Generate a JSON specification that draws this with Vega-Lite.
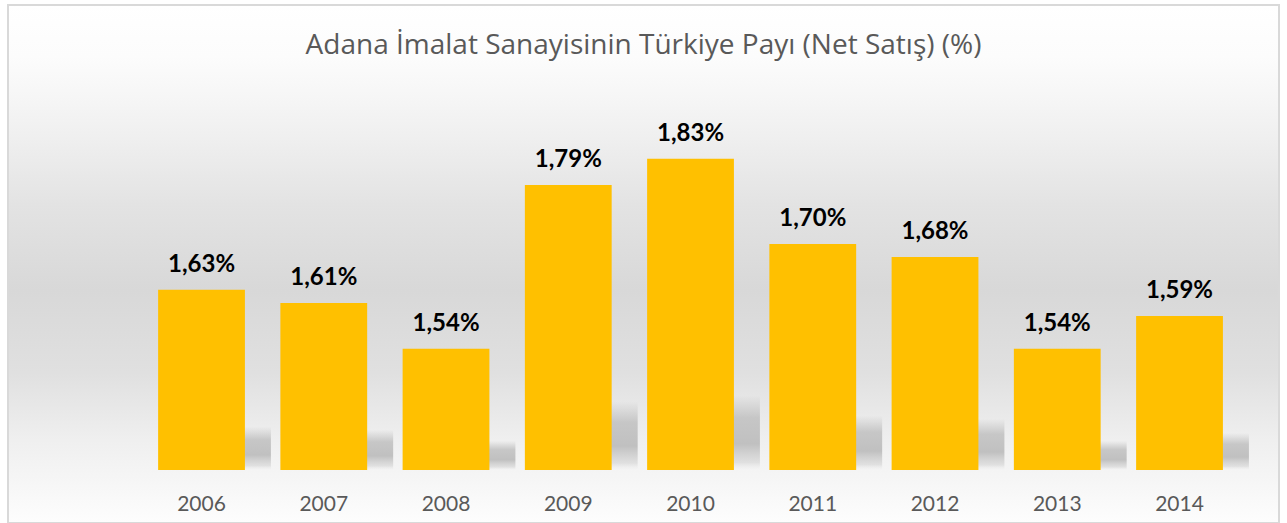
{
  "$schema": "https://vega.github.io/schema/vega-lite/v6.json",
  "width": 1271,
  "height": 518,
  "autosize": {"type": "none"},
  "padding": {"left": 8, "right": 8, "top": 5, "bottom": 0},
  "background": "#ffffff",
  "title": {
    "text": "Adana İmalat Sanayisinin Türkiye Payı (Net Satış) (%)",
    "anchor": "middle",
    "frame": "group",
    "font": "Open Sans",
    "fontSize": 28,
    "fontWeight": "normal",
    "color": "#595959",
    "baseline": "alphabetic",
    "offset": -77
  },
  "config": {
    "view": {
      "stroke": "#d9d9d9",
      "strokeWidth": 2,
      "fill": {
        "gradient": "linear",
        "x1": 0, "y1": 0, "x2": 0, "y2": 1,
        "stops": [
          {"offset": 0, "color": "#ffffff"},
          {"offset": 0.1, "color": "#fcfcfc"},
          {"offset": 0.19, "color": "#f5f5f5"},
          {"offset": 0.29, "color": "#ececec"},
          {"offset": 0.386, "color": "#e3e3e3"},
          {"offset": 0.55, "color": "#d8d8d8"},
          {"offset": 0.71, "color": "#e0e0e0"},
          {"offset": 0.84, "color": "#efefef"},
          {"offset": 1, "color": "#fdfdfd"}
        ]
      }
    }
  },
  "data": {
    "values": [
      {"year": "2006", "v": 1.63},
      {"year": "2007", "v": 1.61},
      {"year": "2008", "v": 1.54},
      {"year": "2009", "v": 1.79},
      {"year": "2010", "v": 1.83},
      {"year": "2011", "v": 1.70},
      {"year": "2012", "v": 1.68},
      {"year": "2013", "v": 1.54},
      {"year": "2014", "v": 1.59}
    ]
  },
  "encoding": {
    "x": {
      "field": "year",
      "type": "nominal",
      "sort": null,
      "scale": {"paddingInner": 0.29, "paddingOuter": 0.8434, "align": 0.728},
      "axis": {
        "title": null,
        "orient": "bottom",
        "offset": -13,
        "domain": false,
        "ticks": false,
        "tickSize": 0,
        "labelPadding": 0,
        "labelBaseline": "alphabetic",
        "labelFont": "Lato",
        "labelFontSize": 21,
        "labelColor": "#595959",
        "labelAngle": 0,
        "grid": false
      }
    }
  },
  "layer": [
    {
      "mark": {
        "type": "bar",
        "xOffset": 26,
        "color": {
          "gradient": "linear",
          "x1": 0, "y1": 0, "x2": 0, "y2": 1,
          "stops": [
            {"offset": 0, "color": "rgba(190,190,190,0)"},
            {"offset": 0.3, "color": "rgba(192,192,192,0.85)"},
            {"offset": 0.65, "color": "rgba(192,192,192,1)"},
            {"offset": 0.9, "color": "rgba(205,205,205,0.5)"},
            {"offset": 1, "color": "rgba(230,230,230,0)"}
          ]
        }
      },
      "encoding": {
        "y": {
          "field": "v",
          "type": "quantitative",
          "scale": {"domain": [1.0178, 4.313], "zero": false, "nice": false},
          "axis": null
        },
        "y2": {"datum": 1.355}
      }
    },
    {
      "mark": {"type": "bar", "color": "#ffc000"},
      "encoding": {
        "y": {
          "field": "v",
          "type": "quantitative",
          "scale": {"domain": [1.2741, 2.0649], "zero": false, "nice": false},
          "axis": null
        },
        "y2": {"datum": 1.355}
      }
    },
    {
      "mark": {
        "type": "text",
        "font": "Lato",
        "fontSize": 24,
        "fontWeight": "bold",
        "color": "#000000",
        "baseline": "alphabetic",
        "dy": -18,
        "text": {"expr": "replace(format(datum.v, '.2f'), '.', ',') + '%'"}
      },
      "encoding": {
        "y": {
          "field": "v",
          "type": "quantitative",
          "scale": {"domain": [1.2741, 2.0649], "zero": false, "nice": false},
          "axis": null
        }
      }
    }
  ],
  "resolve": {"scale": {"y": "independent"}}
}
